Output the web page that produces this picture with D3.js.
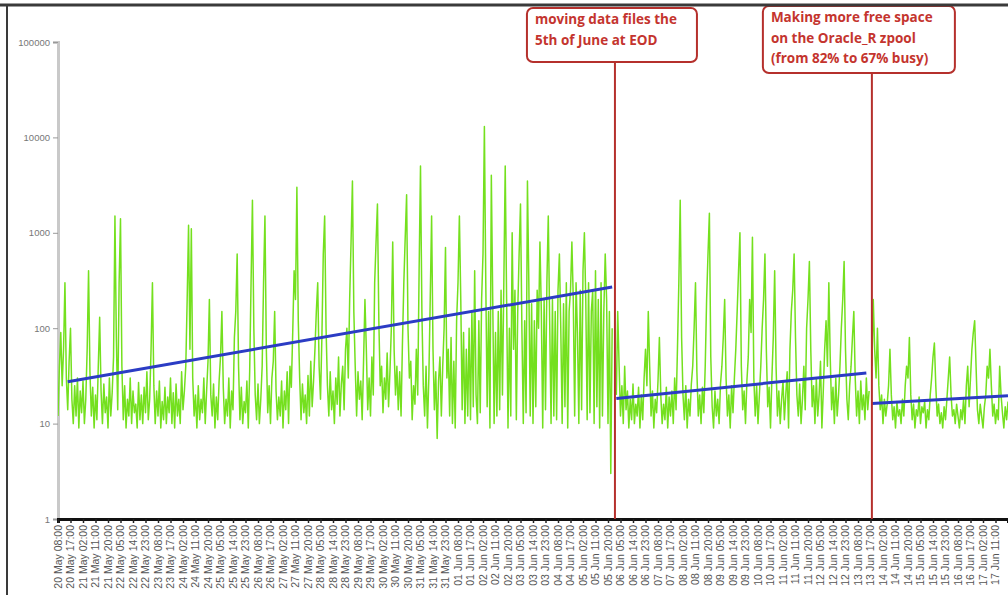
<!DOCTYPE html>
<html>
<head>
<meta charset="utf-8">
<script src="https://cdn.jsdelivr.net/npm/d3@7"></script>
<style>
  body { margin: 0; background: #fff; }
  #chart svg { display: block; }
</style>
</head>
<body>
<div id="chart"></div>
<script>
// values, one point every hour
const seg1Start = new Date(2013, 4, 20, 8);
const seg1Values = [
  12, 40, 90, 25, 60, 300, 30, 14, 45, 100, 18, 10, 25, 12, 30, 9, 22, 13, 28, 10,
  18, 60, 400, 35, 12, 24, 9, 20, 11, 40, 130, 22, 10, 26, 13, 19, 9, 30, 12, 21,
  50, 1500, 80, 14, 300, 1400, 40, 11, 25, 9, 18, 12, 30, 10, 22, 13, 16, 9, 27, 11,
  20, 10, 24, 13, 35, 11, 18, 60, 300, 25, 10, 22, 12, 28, 9, 17, 11, 24, 10, 19,
  13, 30, 10, 21, 9, 26, 12, 18, 10, 35, 14, 22, 40, 200, 1200, 60, 1100, 30, 12, 20,
  9, 25, 11, 18, 13, 30, 10, 22, 45, 200, 20, 12, 26, 9, 19, 11, 28, 50, 150, 24,
  10, 18, 12, 30, 9, 22, 14, 80, 150, 600, 40, 11, 24, 10, 17, 13, 28, 9, 35, 300,
  2200, 100, 20, 11, 26, 10, 18, 40, 300, 1500, 60, 13, 25, 10, 30, 45, 150, 22, 11, 19,
  12, 28, 9, 22, 14, 35, 10, 40, 24, 90, 400, 200, 3000, 120, 30, 11, 26, 13, 20, 10,
  32, 12, 45, 15, 28, 60, 150, 300, 40, 18, 80, 600, 1500, 100, 25, 12, 35, 14, 22, 10,
  30, 16, 50, 12, 26, 40, 14, 60, 100, 30, 200, 800, 3500, 150, 40, 12, 35, 18, 28, 11,
  45, 200, 60, 14, 30, 12, 50, 20, 300, 800, 2000, 120, 25, 40, 13, 30, 18, 55, 15, 35,
  100, 800, 60, 20, 40, 14, 35, 12, 70, 300, 900, 2500, 100, 30, 45, 11, 25, 16, 60, 20,
  400, 5000, 150, 25, 12, 40, 9, 30, 200, 1500, 60, 14, 35, 7, 28, 50, 12, 40, 100, 700,
  30, 60, 12, 80, 10, 45, 9, 120, 300, 1500, 200, 14, 90, 10, 60, 12, 100, 11, 150, 15,
  400, 20, 10, 120, 13, 200, 600, 13000, 300, 15, 150, 9, 4000, 200, 10, 90, 12, 150, 14, 250,
  20, 300, 5000, 200, 9, 100, 12, 1000, 60, 250, 11, 150, 600, 2000, 100, 10, 120, 13, 3500, 300,
  12, 180, 10, 120, 15, 250, 100, 800, 150, 9, 200, 14, 300, 1500, 120, 10, 200, 12, 150, 11,
  250, 600, 100, 10, 180, 15, 300, 9, 150, 250, 800, 200, 12, 300, 90, 10, 250, 14, 400, 1000,
  200, 11, 300, 13, 150, 250, 10, 400, 15, 200, 9, 300, 12, 150, 600, 200, 10, 150, 3, 100
];

const seg2Start = new Date(2013, 5, 6, 2);
const seg2Values = [
  20, 150, 40, 12, 25, 10, 40, 14, 22, 9, 18, 11, 26, 10, 16, 12, 24, 9, 20, 11,
  30, 60, 25, 150, 40, 12, 22, 9, 18, 13, 28, 80, 20, 10, 16, 11, 24, 9, 19, 12,
  22, 10, 30, 14, 60, 300, 2200, 80, 20, 11, 25, 9, 18, 12, 26, 40, 100, 300, 35, 12,
  20, 10, 24, 13, 40, 200, 600, 1600, 50, 15, 9, 22, 12, 18, 10, 26, 40, 80, 200, 30,
  12, 20, 9, 25, 13, 30, 60, 150, 400, 1000, 40, 14, 22, 10, 28, 50, 200, 90, 900, 30,
  12, 25, 10, 20, 40, 100, 200, 600, 60, 15, 24, 9, 30, 80, 400, 40, 12, 22, 10, 18,
  28, 11, 20, 35, 9, 60, 150, 250, 600, 80, 20, 12, 26, 10, 18, 40, 14, 100, 200, 500,
  60, 15, 25, 10, 30, 12, 20, 45, 9, 22, 60, 120, 40, 300, 50, 14, 24, 10, 30, 12,
  20, 40, 100, 200, 500, 60, 18, 11, 25, 40, 80, 150, 30, 12, 22, 10, 28, 14, 20, 11,
  30, 14, 22
];

const seg3Start = new Date(2013, 5, 13, 18);
const seg3Values = [
  40, 200, 60, 30, 100, 25, 14, 20, 10, 18, 12, 16, 25, 60, 20, 11, 15, 9, 17, 12,
  14, 10, 18, 12, 25, 40, 30, 80, 20, 11, 16, 9, 14, 12, 19, 10, 15, 13, 17, 9,
  14, 11, 20, 30, 50, 70, 25, 12, 16, 10, 13, 9, 15, 11, 18, 30, 50, 20, 12, 14,
  10, 16, 12, 9, 14, 11, 18, 10, 25, 40, 15, 30, 60, 90, 120, 40, 14, 10, 16, 12,
  9, 15, 20, 40, 30, 60, 25, 12, 16, 10, 14, 11, 40, 20, 13, 9, 15, 11, 17
];

// trend lines: [start, end] as [date, value]
const trend1 = [[new Date(2013, 4, 20, 15), 27.5], [new Date(2013, 5, 5, 23), 270]];
const trend2 = [[new Date(2013, 5, 6, 2), 18.3], [new Date(2013, 5, 13, 14), 34]];
const trend3 = [[new Date(2013, 5, 13, 18), 16.2], [new Date(2013, 5, 17, 20), 19.6]];

const eventDates = [new Date(2013, 5, 6, 1), new Date(2013, 5, 13, 18)];
const eventNotes = [
  ["moving data files the", "5th of June at EOD"],
  ["Making more free space", "on the Oracle_R zpool", "(from 82% to 67% busy)"]
];

const yTicks = [1, 10, 100, 1000, 10000, 100000];
const axisStart = new Date(2013, 4, 20, 8);
const axisEnd = new Date(2013, 5, 17, 20);
const tickStepHours = 9;

const width = 1008, height = 595;
const margin = { left: 58, right: 0, top: 42, bottom: 76 };

const svg = d3.select("#chart").append("svg")
    .attr("width", width)
    .attr("height", height);

const x = d3.scaleTime()
    .domain([axisStart, axisEnd])
    .range([margin.left, width - margin.right]);

const y = d3.scaleLog()
    .domain([1, 100000])
    .range([height - margin.bottom, margin.top]);

// turn a value list into hourly points
function toPoints(start, values) {
    return values.map((v, i) => [d3.timeHour.offset(start, i), v]);
}

const series = [
    toPoints(seg1Start, seg1Values),
    toPoints(seg2Start, seg2Values),
    toPoints(seg3Start, seg3Values)
];

svg.append("clipPath").attr("id", "plot-clip")
    .append("rect")
    .attr("x", margin.left).attr("y", 0)
    .attr("width", width - margin.left).attr("height", height - margin.bottom);

const line = d3.line()
    .x(d => x(d[0]))
    .y(d => y(d[1]));

// y axis
const yAxis = svg.append("g")
    .attr("transform", `translate(${margin.left},0)`)
    .call(d3.axisLeft(y).tickValues(yTicks).tickFormat(d3.format("d")).tickSize(5));
yAxis.select(".domain").attr("stroke", "#c9c9c9").attr("stroke-width", 3);
yAxis.selectAll(".tick line").attr("stroke", "#999");
yAxis.selectAll(".tick text")
    .attr("fill", "#777")
    .attr("font-family", "Liberation Sans, Arial, sans-serif")
    .attr("font-size", 9.5);

// green data
const plot = svg.append("g").attr("clip-path", "url(#plot-clip)");
plot.selectAll("path.data")
    .data(series)
    .join("path")
    .attr("class", "data")
    .attr("d", line)
    .attr("fill", "none")
    .attr("stroke", "#74e01e")
    .attr("stroke-width", 1.5)
    .attr("stroke-linejoin", "round");

// blue trend lines
plot.selectAll("path.trend")
    .data([trend1, trend2, trend3])
    .join("path")
    .attr("class", "trend")
    .attr("d", line)
    .attr("fill", "none")
    .attr("stroke", "#2b3cc4")
    .attr("stroke-width", 3);

// x axis
const xTicks = d3.timeHour.every(1).range(axisStart, axisEnd)
    .filter((d, i) => i % tickStepHours === 0);
const fmt = d3.timeFormat("%d %b %H:%M");
const xAxis = svg.append("g")
    .attr("transform", `translate(0,${height - margin.bottom})`)
    .call(d3.axisBottom(x).tickValues(xTicks).tickFormat(fmt).tickSize(4));
xAxis.select(".domain").attr("stroke", "#111").attr("stroke-width", 3);
xAxis.selectAll(".tick line").attr("stroke", "#222").attr("stroke-width", 1.5);
xAxis.selectAll(".tick text")
    .attr("fill", "#555")
    .attr("font-family", "Liberation Sans, Arial, sans-serif")
    .attr("font-size", 10.5)
    .attr("text-anchor", "end")
    .attr("transform", "rotate(-90)")
    .attr("x", -6)
    .attr("y", 0)
    .attr("dy", "0.32em");

// red event lines with note boxes
const boxes = [
    { dx: -88, w: 170, top: 8, h: 54 },
    { dx: -109, w: 192, top: 6, h: 67 }
];
const red = "#b5302c";
eventDates.forEach((d, i) => {
    const ex = x(d), b = boxes[i];
    svg.append("line")
        .attr("x1", ex).attr("x2", ex)
        .attr("y1", b.top + b.h).attr("y2", y(1))
        .attr("stroke", red).attr("stroke-width", 2);
    svg.append("rect")
        .attr("x", ex + b.dx).attr("y", b.top)
        .attr("width", b.w).attr("height", b.h)
        .attr("rx", 6)
        .attr("fill", "#fff")
        .attr("stroke", red).attr("stroke-width", 2);
    svg.append("text")
        .attr("fill", "#c4342e")
        .attr("font-family", "Open Sans, Liberation Sans, sans-serif")
        .attr("font-weight", "bold")
        .attr("font-size", 13.5)
        .selectAll("tspan")
        .data(eventNotes[i])
        .join("tspan")
        .attr("x", ex + b.dx + 8)
        .attr("y", (t, j) => b.top + 16 + j * 20.5)
        .text(t => t);
});

// screenshot frame edges
svg.append("line").attr("x1", 0).attr("x2", width).attr("y1", 5).attr("y2", 5)
    .attr("stroke", "#3a3a3a").attr("stroke-width", 3);
svg.append("line").attr("x1", 7).attr("x2", 7).attr("y1", 5).attr("y2", height)
    .attr("stroke", "#3a3a3a").attr("stroke-width", 2);
</script>
</body>
</html>
